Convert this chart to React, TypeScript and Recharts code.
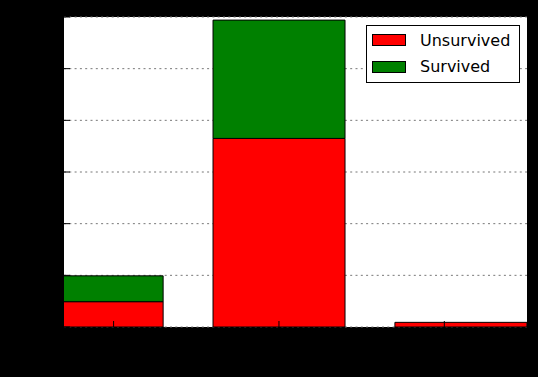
import React from "react";
import {
    BarChart,
    Bar,
    XAxis,
    YAxis,
    CartesianGrid,
    Legend,
} from "recharts";

// bar centres on the numeric x axis, and stacked counts
const xPositions = [-0.1, 1.0, 2.1];
const unsurvived = [49, 365, 9];
const survived = [50, 229, 0];
const seriesNames = ["Unsurvived", "Survived"];
const xTicks = [0, 1, 2];
const yTicks = [0, 100, 200, 300, 400, 500, 600];

const data = xPositions.map((x, i) => ({
    x,
    Unsurvived: unsurvived[i],
    Survived: survived[i],
}));

const FONT = "'DejaVu Sans', sans-serif";

const LeftTick = ({ x, y, payload }: any) => (
    <g>
        <line x1={x} x2={x + 6} y1={y} y2={y} stroke="#000" />
        <text x={x - 8} y={y} dy={5} textAnchor="end" fill="#000" fontSize={16} fontFamily={FONT}>
            {payload.value}
        </text>
    </g>
);

const RightTick = ({ x, y }: any) => (
    <line x1={x - 6} x2={x} y1={y} y2={y} stroke="#000" />
);

const BottomTick = ({ x, y, payload }: any) => (
    <g>
        <line x1={x} x2={x} y1={y - 6} y2={y} stroke="#000" />
        <text x={x} y={y + 22} textAnchor="middle" fill="#000" fontSize={16} fontFamily={FONT}>
            {payload.value}
        </text>
    </g>
);

const TopTick = ({ x, y }: any) => (
    <line x1={x} x2={x} y1={y} y2={y + 6} stroke="#000" />
);

const renderLegend = (props: any) => {
    const items = [...(props.payload || [])].sort(
        (a: any, b: any) => seriesNames.indexOf(a.value) - seriesNames.indexOf(b.value)
    );
    return (
        <div
            style={{
                background: "#fff",
                border: "1px solid #000",
                width: 152,
                height: 55,
                paddingTop: 1,
                boxSizing: "content-box",
                fontFamily: FONT,
                fontSize: 16,
                color: "#000",
            }}
        >
            {items.map((entry: any) => (
                <div key={entry.value} style={{ display: "flex", alignItems: "center", height: 26.5 }}>
                    <span
                        style={{
                            display: "inline-block",
                            width: 32,
                            height: 10,
                            background: entry.color,
                            border: "1px solid #000",
                            marginLeft: 5,
                            marginRight: 14,
                        }}
                    />
                    <span>{entry.value}</span>
                </div>
            ))}
        </div>
    );
};

const App: React.FC = () => {
    return (
        <div style={{ position: "absolute", left: 0, top: 0, width: 538, height: 377, background: "#000" }}>
            <BarChart
                width={538}
                height={377}
                data={data}
                margin={{ top: 17, right: 11, bottom: 20, left: 24 }}
                barSize={132}
            >
                <CartesianGrid
                    vertical={false}
                    fill="#fff"
                    stroke="#777"
                    strokeDasharray="2 3.3"
                />
                <XAxis
                    dataKey="x"
                    type="number"
                    domain={[-0.3, 2.5]}
                    ticks={xTicks}
                    allowDataOverflow
                    height={30}
                    tickSize={0}
                    tickMargin={0}
                    tickLine={false}
                    axisLine={false}
                    tick={<BottomTick />}
                />
                <XAxis
                    xAxisId="top"
                    orientation="top"
                    dataKey="x"
                    type="number"
                    domain={[-0.3, 2.5]}
                    ticks={xTicks}
                    allowDataOverflow
                    height={0}
                    tickSize={0}
                    tickMargin={0}
                    tickLine={false}
                    axisLine={false}
                    tick={<TopTick />}
                />
                <YAxis
                    domain={[0, 600]}
                    ticks={yTicks}
                    width={40}
                    tickSize={0}
                    tickMargin={0}
                    tickLine={false}
                    axisLine={false}
                    tick={<LeftTick />}
                />
                <YAxis
                    yAxisId="right"
                    orientation="right"
                    domain={[0, 600]}
                    ticks={yTicks}
                    width={0}
                    tickSize={0}
                    tickMargin={0}
                    tickLine={false}
                    axisLine={false}
                    tick={<RightTick />}
                />
                <Legend
                    layout="vertical"
                    align="center"
                    verticalAlign="middle"
                    content={renderLegend}
                    wrapperStyle={{ position: "absolute", left: 366, top: 25, width: 154 }}
                />
                <Bar
                    dataKey="Unsurvived"
                    stackId="a"
                    fill="#ff0000"
                    stroke="#000"
                    strokeWidth={1}
                    isAnimationActive={false}
                />
                <Bar
                    dataKey="Survived"
                    stackId="a"
                    fill="#008000"
                    stroke="#000"
                    strokeWidth={1}
                    isAnimationActive={false}
                />
            </BarChart>
        </div>
    );
};

export default App;
